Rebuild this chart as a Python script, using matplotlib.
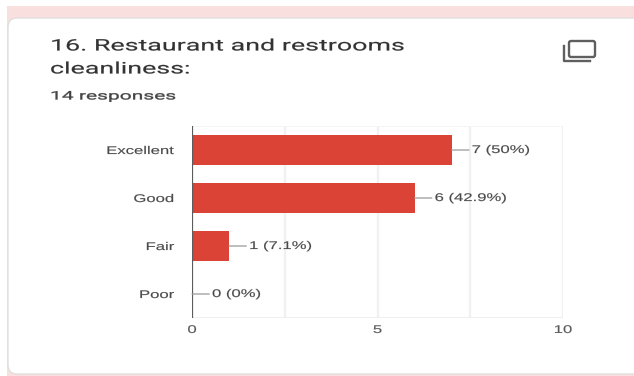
import matplotlib
matplotlib.use("Agg")
import matplotlib.pyplot as plt
from matplotlib.patches import FancyBboxPatch, Rectangle
from matplotlib.patheffects import AbstractPathEffect
from matplotlib.transforms import Affine2D

categories = ["Excellent", "Good", "Fair", "Poor"]
counts = [7, 6, 1, 0]
percents = ["50%", "42.9%", "7.1%", "0%"]
ticks = [0, 5, 10]
grid_ticks = [2.5, 7.5]

W, H = 634, 376


class WideText(AbstractPathEffect):
    # widens glyphs about a fixed x position (pixels) and thickens them a little
    def __init__(self, x0, factor, weight=0.12):
        super().__init__()
        self.x0 = x0
        self.factor = factor
        self.weight = weight

    def draw_path(self, renderer, gc, tpath, affine, rgbFace=None):
        wide = Affine2D().translate(-self.x0, 0).scale(self.factor, 1).translate(self.x0, 0)
        gc0 = renderer.new_gc()
        gc0.copy_properties(gc)
        gc0.set_foreground(rgbFace)
        gc0.set_linewidth(self.weight)
        renderer.draw_path(gc0, tpath, affine + wide, rgbFace)
        gc0.restore()


fig = plt.figure(figsize=(W / 100, H / 100), dpi=100, facecolor="white")

# page background in pixel coordinates
bg = fig.add_axes([0, 0, 1, 1])
bg.set_xlim(0, W)
bg.set_ylim(H, 0)
bg.axis("off")
bg.add_patch(Rectangle((7, 6), W - 7, H - 6, fc="#f9dfdd", ec="none"))
bg.add_patch(FancyBboxPatch((8, 18), W, 356, boxstyle="round,pad=0,rounding_size=9",
                            fc="white", ec="#e2dee0", lw=1))

bg.text(50, 46, "16. Restaurant and restrooms", family="Roboto", fontsize=11.5,
        color="#333333", va="center", ha="left", path_effects=[WideText(50, 1.68)])
bg.text(50, 69, "cleanliness:", family="Roboto", fontsize=11.5,
        color="#333333", va="center", ha="left", path_effects=[WideText(50, 1.68)])
bg.text(50, 96, "14 responses", family="Roboto", fontsize=8.5,
        color="#444444", va="center", ha="left", path_effects=[WideText(50, 1.78, 0.22)])

# copy icon
bg.add_patch(FancyBboxPatch((569, 41), 26, 16, boxstyle="round,pad=0,rounding_size=2",
                            fc="none", ec="#5f5f5f", lw=1.7))
bg.plot([564, 564, 590], [46, 61, 61], color="#5f5f5f", lw=1.7)

# chart area runs from x=192 to x=563, y=126 to y=318
ax = fig.add_axes([192 / W, 1 - 318 / H, 371 / W, 192 / H])
ax.set_xlim(0, 10)
ax.set_ylim(3.5, -0.5)
ax.patch.set_alpha(0)
for s in ax.spines.values():
    s.set_visible(False)

for t in grid_ticks + ticks[1:]:
    ax.axvline(t, color="#f1f1f1", lw=1.7, zorder=0)
ax.axhline(3.5, color="#eeeeee", lw=1.3, zorder=0)
ax.axhline(-0.5, color="#f5f5f5", lw=1.3, zorder=0)

ax.barh(range(len(categories)), counts, height=0.61, color="#dc4337", zorder=2)
ax.axvline(0, color="#5c5c5c", lw=1.6, zorder=3)

for i, (c, p) in enumerate(zip(counts, percents)):
    text_x = ax.transData.transform((c, i))[0] + 20
    ax.annotate(f"{c} ({p})", (c, i), xytext=(20, 0), textcoords="offset pixels",
                va="center", ha="left", family="Liberation Sans", fontsize=8,
                color="#4a4a4a", path_effects=[WideText(text_x, 1.5)],
                arrowprops=dict(arrowstyle="-", color="#999999", lw=0.9,
                                shrinkA=0, shrinkB=0))

ax.set_yticks(range(len(categories)), categories)
ax.set_xticks(ticks, [str(t) for t in ticks])
ax.tick_params(length=0)
ax.tick_params(axis="y", pad=12.5, labelsize=8, labelcolor="#4a4a4a")
ax.tick_params(axis="x", pad=5, labelsize=8, labelcolor="#5a5a5a")
for lab in ax.get_yticklabels():
    lab.set_family("Liberation Sans")
    lab.set_path_effects([WideText(175, 1.5)])
for t, lab in zip(ticks, ax.get_xticklabels()):
    lab.set_family("Liberation Sans")
    lab.set_path_effects([WideText(ax.transData.transform((t, 0))[0], 1.5)])

fig.savefig("out.png", dpi=100)
